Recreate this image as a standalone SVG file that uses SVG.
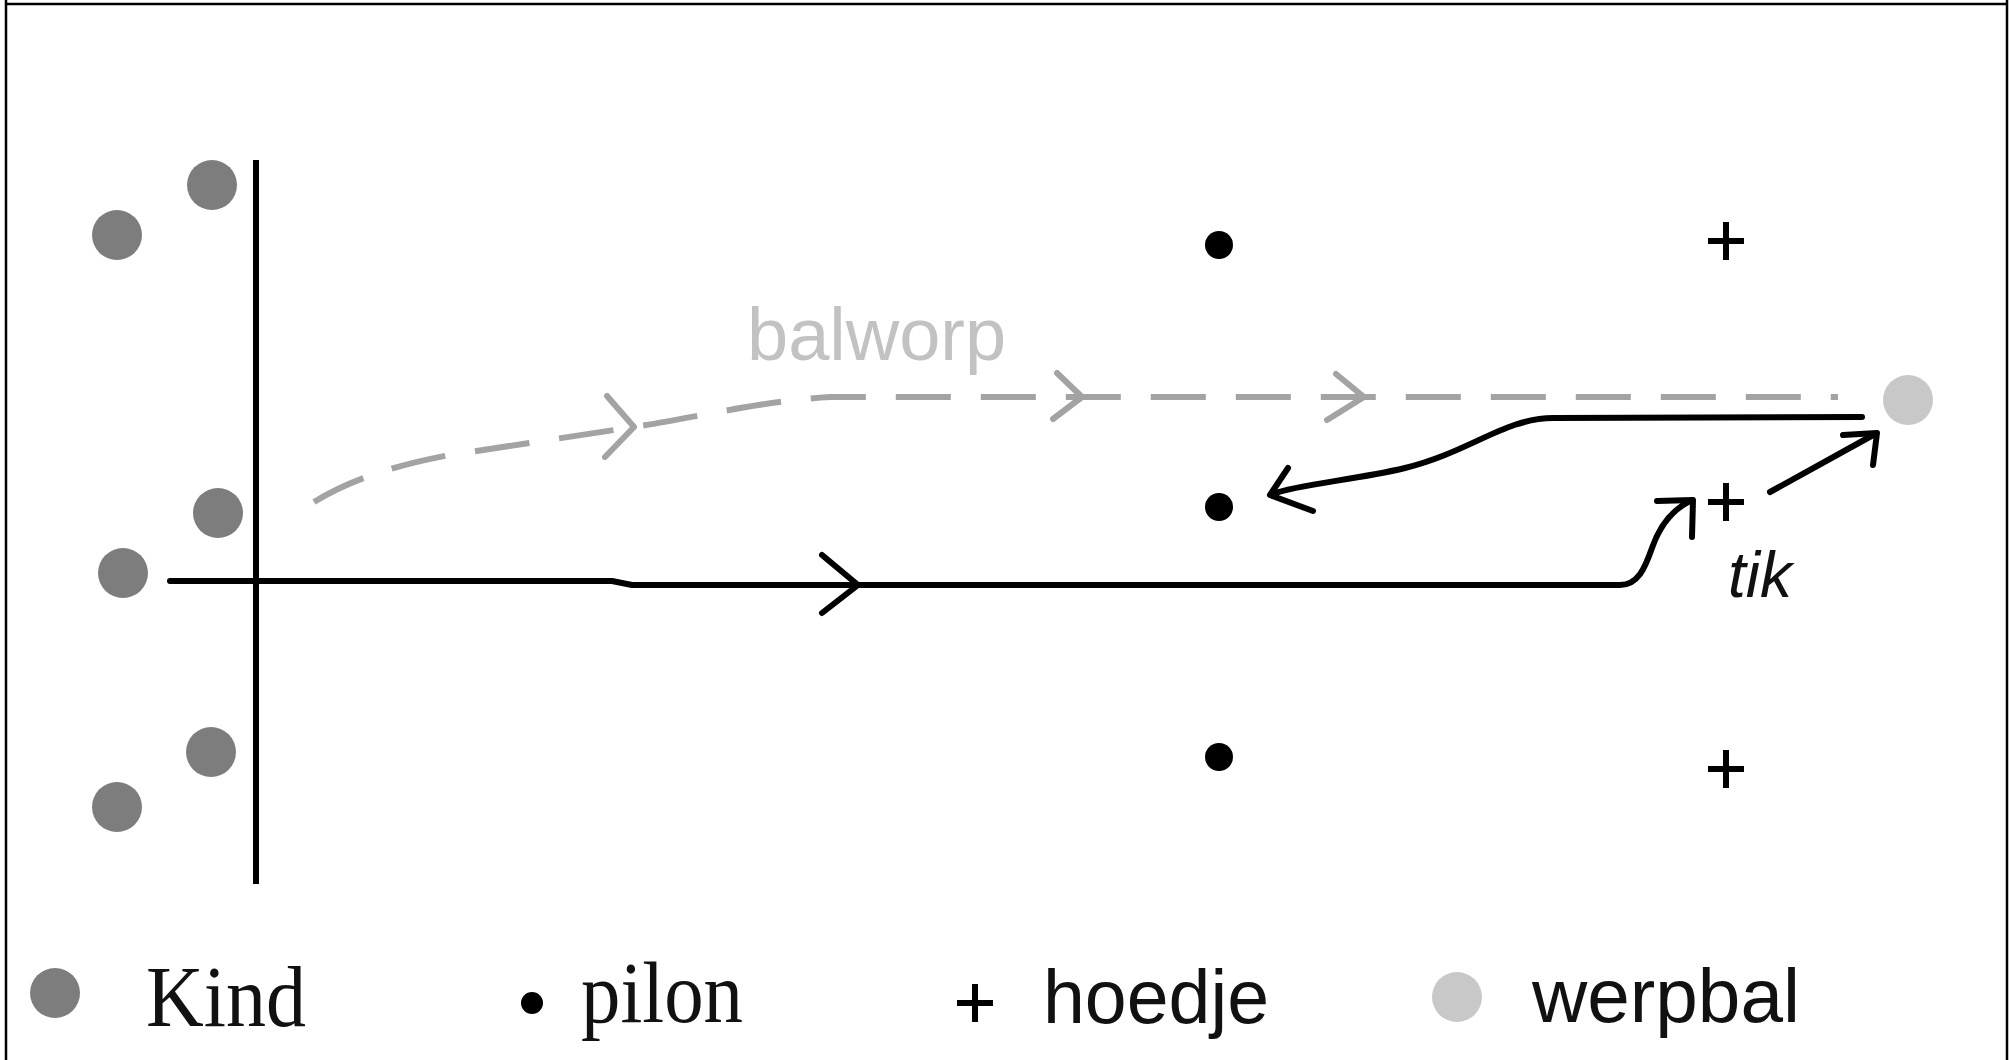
<svg xmlns="http://www.w3.org/2000/svg" xmlns:xlink="http://www.w3.org/1999/xlink" width="2009" height="1060" viewBox="0 0 2009 1060">
<style>
.kind{fill:#7d7d7d}
.pilon{fill:#000}
.bal{fill:#c8c8c8}
.hoed{stroke:#000;stroke-width:6;fill:none}
.solid{stroke:#000;stroke-width:6;fill:none;stroke-linejoin:round;stroke-linecap:round}
.dash{stroke:#a3a3a3;stroke-width:6;fill:none;stroke-dasharray:55 30}
.gchev{stroke:#a3a3a3;stroke-width:6;fill:none;stroke-linejoin:round;stroke-linecap:round}
.serif{font-family:"Liberation Serif","Times New Roman",serif;fill:#111}
.sans{font-family:"Liberation Sans",Arial,sans-serif;fill:#111}
</style>
<defs>
<path id="plus" d="M-18,0 H18 M0,-19 V19"/>
</defs>
<rect x="0" y="0" width="2009" height="1060" fill="#fff"/>
<g id="frame" stroke="#000" stroke-width="2.5" fill="none">
<path d="M6,0 V1060 M5,4 H2008 M2007,0 V1060"/>
</g>
<g id="baseline-field">
<line x1="256" y1="160" x2="256" y2="884" stroke="#000" stroke-width="6"/>
</g>
<g id="kinderen">
<circle class="kind" cx="212" cy="185" r="25"/>
<circle class="kind" cx="117" cy="235" r="25"/>
<circle class="kind" cx="218" cy="513" r="25"/>
<circle class="kind" cx="123" cy="573" r="25"/>
<circle class="kind" cx="211" cy="752" r="25"/>
<circle class="kind" cx="117" cy="807" r="25"/>
</g>
<g id="pilonnen">
<circle class="pilon" cx="1219" cy="245" r="14"/>
<circle class="pilon" cx="1219" cy="507" r="14"/>
<circle class="pilon" cx="1219" cy="757" r="14"/>
</g>
<g id="hoedjes">
<use xlink:href="#plus" class="hoed" x="1726" y="241"/>
<use xlink:href="#plus" class="hoed" x="1726" y="502"/>
<use xlink:href="#plus" class="hoed" x="1726" y="769"/>
</g>
<g id="werpbal">
<circle class="bal" cx="1908" cy="400" r="25"/>
</g>
<g id="connectors">
<path class="dash" d="M314,502 C340,486 380,468 450,455 L634,427 C700,417 760,401 830,397 L1838,397"/>
<path class="gchev" d="M607,396 L634,427 L605,457"/>
<path class="gchev" d="M1057,373 L1082,397 L1053,419"/>
<path class="gchev" d="M1336,374 L1364,397 L1327,420"/>
<path class="solid" d="M170,581 L612,581 L632,585 L1620,585 C1638,585 1645,568 1652,548 C1660,525 1672,510 1690,501"/>
<path class="solid" d="M822,555 L858,585 L822,613"/>
<path class="solid" d="M1657,501 L1693,500 L1692,537"/>
<path class="solid" d="M1862,417 L1553,418 C1505,418 1470,452 1405,468 C1355,480 1300,484 1272,494"/>
<path class="solid" d="M1288,468 L1270,495 L1313,511"/>
<path class="solid" d="M1770,492 L1875,434"/>
<path class="solid" d="M1843,435 L1877,433 L1873,465"/>
</g>
<g id="labels">
<text x="747" y="360" font-family="Liberation Sans, Arial, sans-serif" font-size="74" fill="#c2c2c2">balworp</text>
<text x="1728" y="597" class="sans" font-size="64" font-style="italic" textLength="64" lengthAdjust="spacingAndGlyphs">tik</text>
</g>
<g id="legend">
<circle class="kind" cx="55" cy="993" r="25"/>
<text x="146" y="1026" class="serif" font-size="86" textLength="160" lengthAdjust="spacingAndGlyphs">Kind</text>
<circle class="pilon" cx="532" cy="1003" r="11"/>
<text x="581" y="1022" class="serif" font-size="86" textLength="162" lengthAdjust="spacingAndGlyphs">pilon</text>
<use xlink:href="#plus" class="hoed" x="975" y="1003"/>
<text x="1043" y="1023" class="sans" font-size="76" textLength="226" lengthAdjust="spacingAndGlyphs">hoedje</text>
<circle class="bal" cx="1457" cy="997" r="25"/>
<text x="1532" y="1022" class="sans" font-size="76" textLength="268" lengthAdjust="spacingAndGlyphs">werpbal</text>
</g>
</svg>
